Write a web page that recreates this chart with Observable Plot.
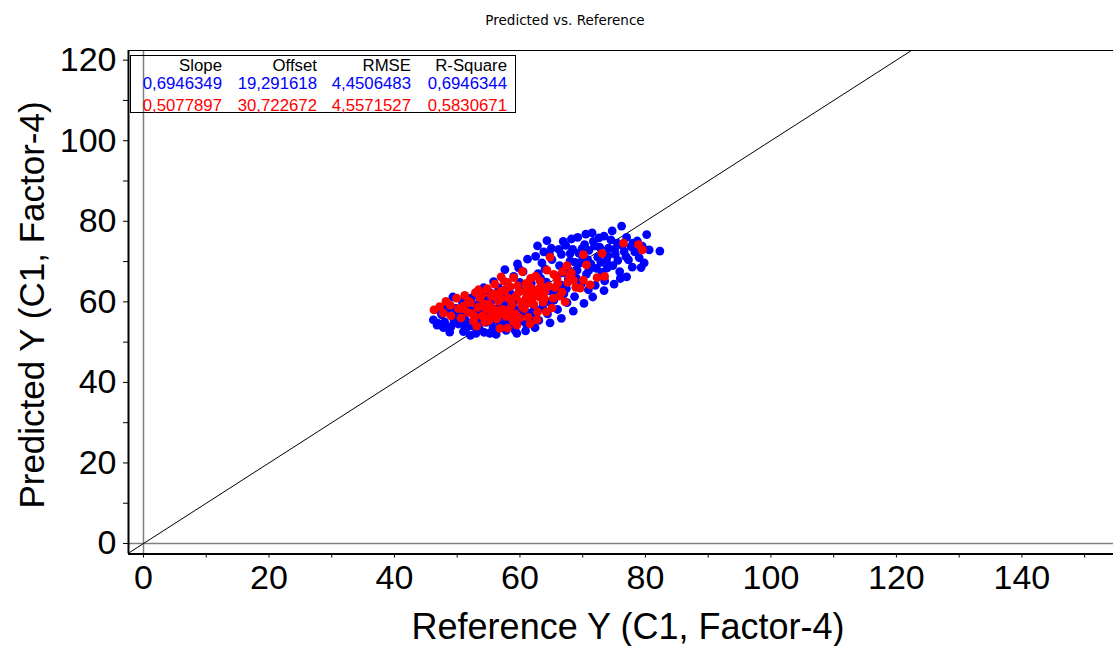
<!DOCTYPE html>
<html>
<head>
<meta charset="utf-8">
<script src="https://cdn.jsdelivr.net/npm/d3@7"></script>
<script src="https://cdn.jsdelivr.net/npm/@observablehq/plot@0.6"></script>
<style>
  body { margin: 0; background: #fff; font-family: "Liberation Sans", Arial, sans-serif; }
  #wrap { position: relative; width: 1113px; height: 646px; overflow: hidden; }
  #title { height: 40px; font-family: "DejaVu Sans", sans-serif; font-size: 13.5px; line-height: 41px; text-align: center; padding-left: 17px; box-sizing: border-box; color: #000; }
  #stats { position: absolute; left: 130px; top: 55px; width: 386px; height: 58px; border: 1px solid #000; box-sizing: border-box; }
  #stats .row { position: absolute; left: 0; width: 100%; height: 17px; }
  #stats .cell { position: absolute; font-size: 16.8px; line-height: 16.8px; white-space: nowrap; text-align: right; width: 100px; }
  #ylabel { position: absolute; left: 31px; top: 305px; transform: translate(-50%, -50%) rotate(-90deg); font-size: 35px; line-height: 35px; white-space: nowrap; color: #000; }
</style>
</head>
<body>
<div id="wrap">
  <div id="title"></div>
  <div id="chart"></div>
  <div id="stats"></div>
  <div id="ylabel"></div>
</div>
<script>
// ---- data ----
const title = "Predicted vs. Reference";
const xLabel = "Reference Y (C1, Factor-4)";
const yLabel = "Predicted Y (C1, Factor-4)";

const xTicks = [0,10,20,30,40,50,60,70,80,90,100,110,120,130,140,150];
const yTicks = [0,10,20,30,40,50,60,70,80,90,100,110,120];

const statHeaders = ["Slope", "Offset", "RMSE", "R-Square"];
const blueStats = ["0,6946349", "19,291618", "4,4506483", "0,6946344"];
const redStats  = ["0,5077897", "30,722672", "4,5571527", "0,5830671"];

const blueX = [46.2,46.8,47.5,48.0,48.6,49.0,49.3,49.8,47.2,48.3,49.3,46.9,48.8,
  50.2,50.6,51.0,51.4,51.8,52.1,52.5,52.9,53.2,53.6,53.9,50.8,52.3,53.0,54.0,51.5,
  54.2,54.3,54.6,55.0,55.3,55.7,56.0,56.4,56.8,57.1,57.5,57.8,55.2,56.6,57.9,54.8,56.2,55.2,57.1,55.8,57.6,
  58.2,58.5,58.9,59.2,59.6,60.0,60.3,60.7,61.0,61.4,61.8,59.0,60.5,61.6,58.4,60.9,62.0,59.6,59.8,61.2,
  62.3,62.6,63.0,63.3,63.7,64.0,64.4,64.7,65.1,65.4,65.8,62.5,63.8,65.0,66.0,64.2,62.9,65.6,62.8,64.3,62.4,64.8,
  66.3,66.6,67.0,67.3,67.7,68.0,68.4,68.7,69.1,69.4,69.8,66.8,68.2,69.5,67.5,70.0,66.9,69.2,66.6,68.5,
  70.3,70.6,71.0,71.3,71.7,72.0,72.4,72.7,73.1,73.4,73.8,70.9,72.2,73.5,71.5,70.2,71.6,73.4,
  74.1,74.5,74.8,75.2,75.5,75.9,76.2,76.6,77.0,77.3,77.7,74.7,76.0,77.9,75.0,77.0,
  78.3,78.7,79.0,79.5,80.2,80.6,79.8,79.3,82.3,
  50.0,51.2,52.7,53.4,54.5,55.5,56.9,58.0,59.0,60.2,61.5,62.6,63.6,64.6,65.8,66.5,67.6,68.8,69.9,70.8,
  71.9,72.9,74.0,75.1,76.3,76.9,78.0,72.6,70.5,68.0,66.2,64.7,63.5,67.4,69.0,71.0,73.9,75.6,60.0,58.6,
  57.2,53.0,51.0,49.5,47.8,55.9,59.5];
const blueY = [55.5,54.2,56.8,55.0,57.5,53.8,56.2,58.4,57.9,59.0,61.2,54.7,52.5,
  54.5,56.9,52.6,55.3,58.2,51.7,54.0,56.5,59.3,53.1,55.8,60.1,61.0,52.2,57.7,53.6,
  63.5,52.4,54.9,57.1,59.6,53.5,56.0,58.3,54.4,61.2,55.7,52.9,62.3,63.5,59.0,60.4,51.9,52.2,54.2,65.0,68.0,
  54.2,56.8,60.1,53.0,57.9,55.3,62.8,59.4,54.5,57.2,64.6,66.3,67.5,61.0,63.6,52.8,56.0,69.4,68.4,70.6,
  58.5,61.9,55.4,65.8,59.8,68.2,57.0,62.7,70.5,60.4,66.4,71.3,72.4,73.3,58.1,64.9,67.0,63.4,73.9,75.2,53.6,54.8,
  69.0,71.8,62.0,74.0,65.6,70.2,73.0,61.3,67.8,72.1,64.5,67.2,75.6,69.6,59.8,71.0,75.0,76.0,55.9,57.7,
  74.2,66.9,72.8,69.4,75.0,64.1,71.1,73.6,67.3,76.3,70.2,63.0,68.3,65.2,77.1,59.6,61.2,62.8,
  73.3,75.4,69.0,71.8,74.6,67.5,78.8,72.5,76.0,70.4,73.7,77.6,65.8,68.6,64.4,66.2,
  72.4,75.1,71.0,73.8,76.7,72.9,69.7,68.5,72.6,
  57.2,54.1,57.8,54.6,56.0,55.0,57.0,55.6,58.4,57.0,55.8,57.2,58.6,60.0,61.6,64.2,68.2,69.8,73.2,70.5,
  73.9,69.8,71.4,73.0,74.0,71.2,74.6,75.9,76.8,72.0,73.0,71.8,69.7,63.3,65.8,67.9,68.4,70.3,64.8,61.8,
  59.7,58.0,56.5,55.0,53.6,53.2,52.2];

const redX = [46.3,47.8,48.9,49.9,50.2,50.6,51.2,51.7,52.1,52.6,52.9,53.3,53.6,54.0,54.4,54.8,
  55.0,55.4,55.7,56.0,56.3,56.6,56.9,57.2,57.5,57.8,58.1,58.4,58.7,59.0,59.3,59.5,59.8,
  60.1,60.4,60.7,61.0,61.3,61.6,61.9,62.2,62.5,62.8,63.1,63.4,63.7,64.0,64.3,64.8,
  65.1,65.3,65.6,65.9,66.3,66.7,67.2,67.5,67.9,68.5,68.9,69.6,70.1,70.1,70.6,71.2,72.3,73.1,73.5,
  76.5,78.9,79.5,
  51.0,52.4,53.8,54.6,55.9,57.0,58.3,58.9,60.0,61.2,62.0,63.0,56.3,55.2,57.6,53.1,49.0,48.2,
  60.8,59.6,62.7,64.2,58.0,56.8,61.6,
  47.2,50.8,51.8,52.8,53.4,54.2,55.5,56.2,57.4,58.0,58.6,59.4,60.3,61.0,61.7,62.4,63.2,63.9,64.6,65.4,
  66.0,66.8,67.6,68.2,55.0,56.5,58.5,57.0,54.0,61.5];
const redY = [58.0,57.2,59.1,60.9,58.3,56.0,61.6,57.4,59.8,55.2,62.3,58.6,60.9,56.5,55.0,63.3,
  59.4,61.5,57.6,64.4,55.8,60.2,62.6,58.1,65.1,56.4,61.0,63.8,59.2,66.0,57.1,54.2,62.4,
  60.0,67.5,58.3,64.6,56.2,61.8,63.2,59.4,66.4,57.5,61.2,64.0,59.9,62.5,67.9,71.1,
  58.5,60.9,63.6,65.8,61.4,62.4,60.0,69.0,66.1,65.4,63.6,63.4,65.4,71.7,69.2,64.2,66.0,72.0,66.3,
  74.6,74.2,72.9,
  59.0,57.0,61.5,58.2,62.0,60.8,58.0,55.2,56.0,59.6,61.0,63.2,57.9,56.2,62.9,54.0,56.5,60.1,
  62.7,64.0,55.5,57.5,53.5,53.4,54.5,
  58.8,58.4,60.2,56.3,63.0,59.5,58.6,61.0,57.2,64.8,60.3,61.5,59.0,61.0,65.8,62.6,65.2,60.8,63.9,66.8,
  64.5,67.5,64.8,67.2,55.3,56.5,56.9,66.2,62.0,63.9];

const xDomain = [-2.39, 154.6];
const yDomain = [-2.6, 122.4];

// ---- text ----
document.getElementById("title").textContent = title;
document.getElementById("ylabel").textContent = yLabel;

// ---- chart ----
const font = '"Liberation Sans", Arial, sans-serif';
const chart = Plot.plot({
  width: 1113,
  height: 606,
  marginTop: 10,
  marginBottom: 92.5,
  marginLeft: 128,
  marginRight: 0,
  style: { fontFamily: font, fontSize: "34px", color: "#000", background: "#fff", overflow: "visible" },
  x: { domain: xDomain },
  y: { domain: yDomain },
  marks: [
    Plot.ruleX([0], { stroke: "#808080", strokeWidth: 1.5 }),
    Plot.ruleY([0], { stroke: "#808080", strokeWidth: 1.5 }),
    Plot.line([[xDomain[0], xDomain[0]], [xDomain[1], xDomain[1]]], { x: d => d[0], y: d => d[1], stroke: "#000", strokeWidth: 1, clip: true }),
    Plot.dot(blueY, { x: blueX, y: blueY, r: 4.4, fill: "#0000ff", stroke: null }),
    Plot.dot(redY, { x: redX, y: redY, r: 4.4, fill: "#ff0000", stroke: null }),
    Plot.ruleX([xDomain[0]], { stroke: "#000", strokeWidth: 2 }),
    Plot.ruleY([yDomain[0]], { stroke: "#000", strokeWidth: 2 }),
    Plot.ruleY([yDomain[1]], { stroke: "#000", strokeWidth: 1 }),
    Plot.axisX({ ticks: xTicks, tickFormat: d => d % 20 === 0 ? String(d) : "", tickSize: 4, tickPadding: 7, label: null, fontSize: 34 }),
    Plot.axisY({ ticks: yTicks, tickFormat: d => d % 20 === 0 ? String(d) : "", tickSize: 5, tickPadding: 7, label: null, fontSize: 34 }),
    Plot.text([xLabel], { frameAnchor: "bottom", text: d => d, dy: 84.5, dx: 7, fontSize: 36, fill: "#000" })
  ]
});
document.getElementById("chart").appendChild(chart);

// ---- stats box ----
const stats = document.getElementById("stats");
const rights = [91, 186, 280, 376];
const rows = [
  { vals: statHeaders, color: "#000", top: 2.3 },
  { vals: blueStats, color: "#0000ff", top: 20 },
  { vals: redStats, color: "#ff0000", top: 41.7 }
];
rows.forEach(r => {
  const row = document.createElement("div");
  row.className = "row";
  row.style.top = r.top + "px";
  r.vals.forEach((v, i) => {
    const c = document.createElement("div");
    c.className = "cell";
    c.style.left = (rights[i] - 100) + "px";
    c.style.color = r.color;
    c.textContent = v;
    row.appendChild(c);
  });
  stats.appendChild(row);
});
</script>
</body>
</html>
